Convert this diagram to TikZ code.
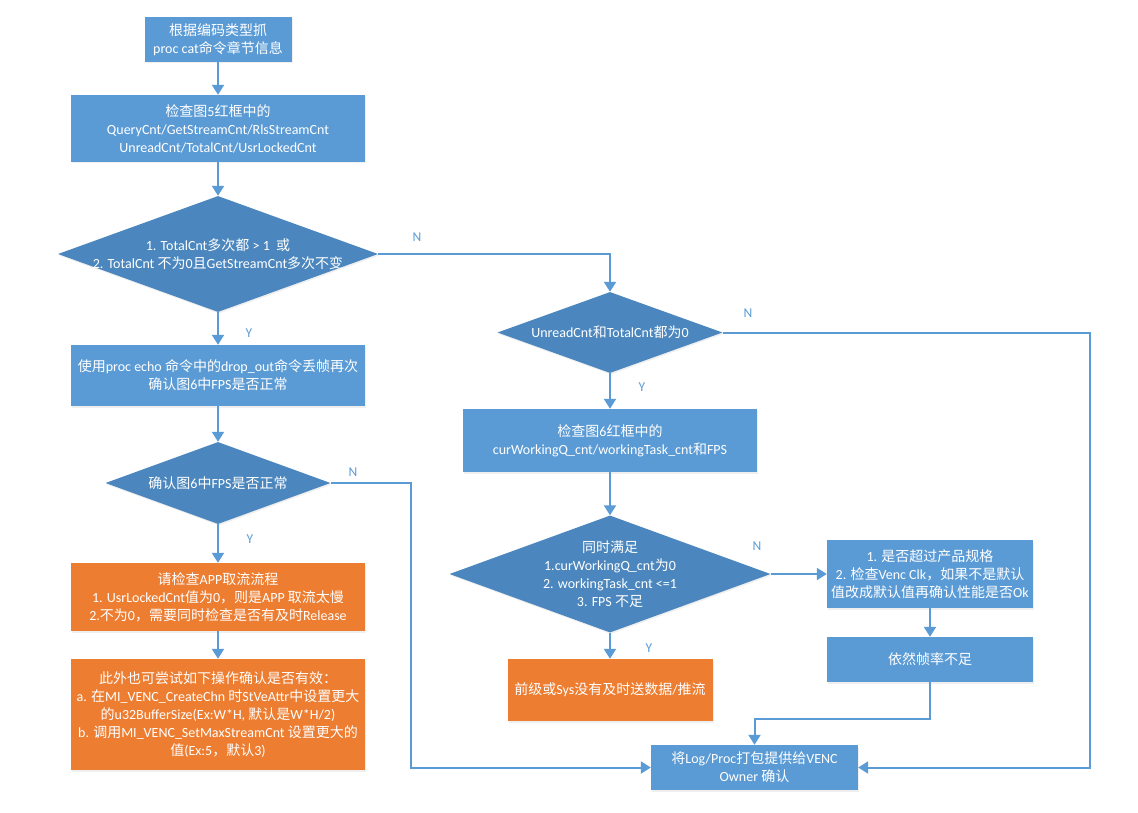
\documentclass[tikz,border=0pt]{standalone}
\usepackage{fontspec}
\setmainfont{Carlito}
\newfontfamily\cjk{Noto Sans CJK SC}
\usetikzlibrary{shapes.geometric,arrows.meta,shadows}
% automatic switching between Latin and CJK fonts
\newXeTeXintercharclass\cjkcls
\newcount\cjkn
\cjkn="3000 \loop\XeTeXcharclass\cjkn=\cjkcls\advance\cjkn by 1 \ifnum\cjkn<"3040 \repeat
\cjkn="4E00 \loop\XeTeXcharclass\cjkn=\cjkcls\advance\cjkn by 1 \ifnum\cjkn<"A000 \repeat
\cjkn="FF00 \loop\XeTeXcharclass\cjkn=\cjkcls\advance\cjkn by 1 \ifnum\cjkn<"FFF0 \repeat
\XeTeXinterchartoks 0 \cjkcls = {\cjk}
\XeTeXinterchartoks 4095 \cjkcls = {\cjk}
\XeTeXinterchartoks \cjkcls 0 = {\rmfamily}
\XeTeXinterchartoks \cjkcls 4095 = {\rmfamily}
\XeTeXinterchartokenstate=1
\definecolor{boxblue}{RGB}{91,155,213}
\definecolor{diablue}{RGB}{75,135,190}
\definecolor{boxorange}{RGB}{237,125,49}
\definecolor{linecol}{RGB}{91,155,213}
\tikzset{
  base/.style={text=white, align=center, inner sep=2pt, font=\fontsize{14}{18}\selectfont,
    drop shadow={opacity=0.12, shadow xshift=1pt, shadow yshift=-1.5pt}},
  bbox/.style={base, rectangle, fill=boxblue},
  obox/.style={base, rectangle, fill=boxorange},
  dia/.style={base, diamond, fill=diablue, inner sep=0pt},
  dtext/.style={text=white, align=center, inner sep=0pt, font=\fontsize{14}{18}\selectfont},
  arr/.style={draw=linecol, line width=2pt, -{Triangle[width=12pt,length=10pt]}},
  lbl/.style={text=linecol, font=\fontsize{13.5}{15}\selectfont, inner sep=0pt}
}
\begin{document}
\begin{tikzpicture}[x=1pt,y=-1pt]
\useasboundingbox (0,0) rectangle (1138,813);
\fill[white] (0,0) rectangle (1138,813);
% left column
\node[bbox, minimum width=147pt, minimum height=45pt] (top) at (218,39.5) {根据编码类型抓\\proc cat命令章节信息};
\node[bbox, minimum width=294pt, minimum height=67pt] (b2) at (218,128.5) {检查图5红框中的\\QueryCnt/GetStreamCnt/RlsStreamCnt\\UnreadCnt/TotalCnt/UsrLockedCnt};
\node[dia, minimum width=320pt, minimum height=116pt] (d1) at (218,254) {};
\node[dtext] (d1t) at (d1.center) {1. TotalCnt多次都 > 1\ \ 或\\2. TotalCnt 不为0且GetStreamCnt多次不变};
\node[bbox, minimum width=294pt, minimum height=61pt] (b3) at (218,375.5) {使用proc echo 命令中的drop\_out命令丢帧再次\\确认图6中FPS是否正常};
\node[dia, minimum width=225pt, minimum height=82pt] (d2) at (218,483) {};
\node[dtext] (d2t) at (d2.center) {确认图6中FPS是否正常};
\node[obox, minimum width=294pt, minimum height=68pt] (o1) at (218,597) {请检查APP取流流程\\1. UsrLockedCnt值为0，则是APP 取流太慢\\2.不为0，需要同时检查是否有及时Release};
\node[obox, minimum width=294pt, minimum height=111pt] (o2) at (218,714.5) {此外也可尝试如下操作确认是否有效：\\a. 在MI\_VENC\_CreateChn 时StVeAttr中设置更大\\的u32BufferSize(Ex:W*H, 默认是W*H/2)\\b. 调用MI\_VENC\_SetMaxStreamCnt 设置更大的\\值(Ex:5，默认3)};
% right column
\node[dia, minimum width=225pt, minimum height=81pt] (d3) at (610,332.5) {};
\node[dtext] (d3t) at (d3.center) {UnreadCnt和TotalCnt都为0};
\node[bbox, minimum width=294pt, minimum height=63pt] (b4) at (610,440.5) {检查图6红框中的\\curWorkingQ\_cnt/workingTask\_cnt和FPS};
\node[dia, minimum width=321pt, minimum height=117pt] (d4) at (610,574) {};
\node[dtext] (d4t) at (d4.center) {同时满足\\1.curWorkingQ\_cnt为0\\2. workingTask\_cnt <=1\\3. FPS 不足};
\node[obox, minimum width=205pt, minimum height=62pt] (o3) at (610,690) {前级或Sys没有及时送数据/推流};
\node[bbox, minimum width=206pt, minimum height=68pt] (b5) at (930,574) {1. 是否超过产品规格\\2. 检查Venc Clk，如果不是默认\\值改成默认值再确认性能是否Ok};
\node[bbox, minimum width=206pt, minimum height=45pt] (b6) at (930,659.5) {依然帧率不足};
\node[bbox, minimum width=207pt, minimum height=45pt] (fin) at (754.5,767.5) {将Log/Proc打包提供给VENC\\Owner 确认};
% helper coordinates
\coordinate (k1) at (411,700);
\coordinate (k2) at (1090,500);
\coordinate (k3) at (800,719);
% connectors
\draw[arr] (top) -- (b2);
\draw[arr] (b2) -- (d1);
\draw[arr] (d1) -- (b3);
\draw[arr] (d1.east) -| (d3.north);
\draw[arr] (b3) -- (d2);
\draw[arr] (d2) -- (o1);
\draw[arr] (o1) -- (o2);
\draw[arr] (d2.east) -| (k1) |- (fin.west);
\draw[arr] (d3) -- (b4);
\draw[arr] (d3.east) -| (k2) |- (fin.east);
\draw[arr] (b4) -- (d4);
\draw[arr] (d4) -- (o3);
\draw[arr] (d4.east) -- (b5.west);
\draw[arr] (b5) -- (b6);
\draw[arr] (b6.south) |- (k3) -| (fin.north);
% labels
\node[lbl] (n1) at (417,237) {N};
\node[lbl] (y1) at (249,333) {Y};
\node[lbl] (n2) at (353,472) {N};
\node[lbl] (y2) at (250,539) {Y};
\node[lbl] (n3) at (748,313) {N};
\node[lbl] (y3) at (642,387) {Y};
\node[lbl] (n4) at (757,546) {N};
\node[lbl] (y4) at (649,648) {Y};
\end{tikzpicture}
\end{document}
